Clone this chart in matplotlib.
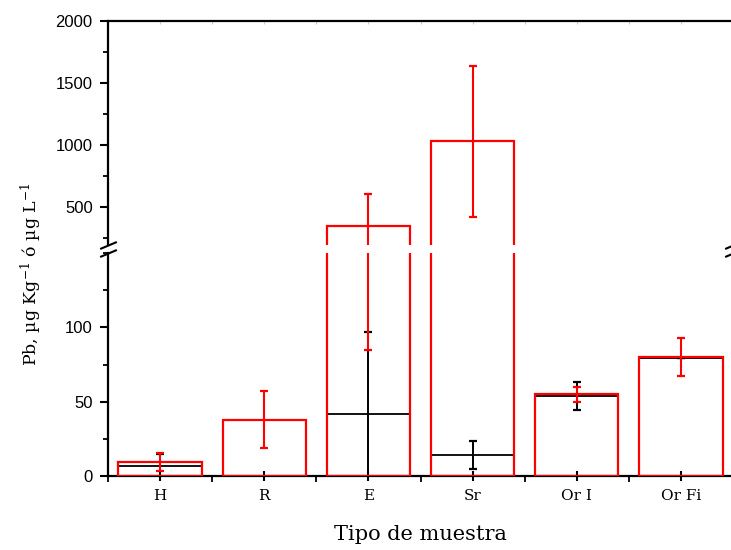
import numpy as np
import matplotlib
matplotlib.use("Agg")
import matplotlib.pyplot as plt
from matplotlib.ticker import MultipleLocator

# # DATA

categories = ["H", "R", "E", "Sr", "Or I", "Or Fi"]

red_values = [9.5, 38, 348, 1030, 55, 80]
red_errors = [6.2, 19, 263, 607, 5, 13]

black_values = [7, np.nan, 42, 14, 53.5, 79.5]
black_errors = [8, np.nan, 55, 9.5, 9.4, 0]

# # STYLE

plt.rcParams['mathtext.fontset'] = 'dejavuserif'
sans = 'Liberation Sans'
serif = 'DejaVu Serif'

W, H = 731, 550
fig = plt.figure(figsize=(W / 100, H / 100), dpi=100)

# axes placed in pixels: left spine x=108, right edge just past the image
left, right = 108, 733
top_y0, top_y1 = 21, 244.6
bot_y0, bot_y1 = 253, 476
ax_top = fig.add_axes([left / W, 1 - top_y1 / H, (right - left) / W, (top_y1 - top_y0) / H])
ax_bot = fig.add_axes([left / W, 1 - bot_y1 / H, (right - left) / W, (bot_y1 - bot_y0) / H])

x = np.arange(1, len(categories) + 1)

for ax in (ax_top, ax_bot):
    ax.bar(x, black_values, width=0.8, fill=False, edgecolor='black', linewidth=1.3, zorder=2)
    ax.errorbar(x, black_values, yerr=black_errors, fmt='none', ecolor='black',
                elinewidth=1.4, capsize=3, capthick=1.6, zorder=3)
    ax.bar(x, red_values, width=0.8, fill=False, edgecolor='red', linewidth=1.6, zorder=4)
    ax.errorbar(x, red_values, yerr=red_errors, fmt='none', ecolor='red',
                elinewidth=1.5, capsize=3, capthick=1.6, zorder=5)
    ax.set_xlim(0.5, 6.5)
    for s in ax.spines.values():
        s.set_linewidth(1.6)
    ax.spines['right'].set_visible(False)
    ax.tick_params(axis='y', which='major', length=6, width=1.5, direction='out',
                   labelsize=12, pad=5)
    ax.tick_params(axis='y', which='minor', length=3.5, width=1.3, direction='out')

# upper part of the broken axis
ax_top.set_ylim(200, 2000)
ax_top.yaxis.set_major_locator(MultipleLocator(500))
ax_top.yaxis.set_minor_locator(MultipleLocator(250))
ax_top.spines['bottom'].set_visible(False)
ax_top.set_xticks(x)
ax_top.set_xticks(np.arange(0.5, 7, 1), minor=True)
ax_top.xaxis.tick_top()
ax_top.tick_params(axis='x', which='both', length=2, width=0.8, color='#cccccc',
                   direction='in', labeltop=False)
for lab in ax_top.get_yticklabels():
    lab.set_fontfamily(sans)

# lower part
ax_bot.set_ylim(0, 150)
ax_bot.yaxis.set_major_locator(MultipleLocator(50))
ax_bot.yaxis.set_minor_locator(MultipleLocator(25))
ax_bot.spines['top'].set_visible(False)
ax_bot.set_xticks(x)
ax_bot.set_xticklabels(categories, fontfamily=serif, fontsize=11)
ax_bot.set_xticks(np.arange(0.5, 7, 1), minor=True)
ax_bot.tick_params(axis='x', which='major', length=7, width=1.5, direction='inout', pad=6)
ax_bot.tick_params(axis='x', which='minor', length=4, width=1.3, direction='out')
ax_bot.set_yticks([0, 50, 100])
for lab in ax_bot.get_yticklabels():
    lab.set_fontfamily(sans)
    lab.set_fontsize(12)

ax_bot.set_xlabel("Tipo de muestra", fontfamily=serif, fontsize=15, labelpad=16)

fig.text(31 / W, 1 - 274 / H, "Pb, µg Kg$^{-1}$ ó µg L$^{-1}$", rotation=90,
         fontfamily=serif, fontsize=12.5, ha='center', va='center')

# break marks
kw = dict(marker=[(-1, -0.42), (1, 0.42)], markersize=12, linestyle='none',
          color='k', mec='k', mew=1.5, clip_on=False)
ax_top.plot([0, 1], [0, 0], transform=ax_top.transAxes, **kw)
ax_bot.plot([0, 1], [1, 1], transform=ax_bot.transAxes, **kw)

fig.savefig("out.png", dpi=100)
